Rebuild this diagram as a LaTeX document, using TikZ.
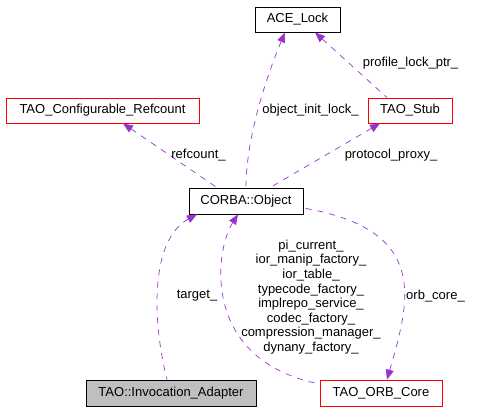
\documentclass[tikz,border=0pt]{standalone}
\usepackage{fontspec}
\setmainfont{Liberation Sans}
\usetikzlibrary{arrows.meta}
\definecolor{edgec}{HTML}{9A32CD}
\tikzset{
  cls/.style={draw=black, line width=0.8pt, rectangle, inner sep=0pt, minimum height=25pt, font=\fontsize{13}{15}\selectfont},
  redcls/.style={cls, draw=red},
  rel/.style={draw=edgec, line width=0.7pt, dash pattern=on 6pt off 6pt, {Triangle[length=10pt,width=8pt]}-},
  lbl/.style={font=\fontsize{13}{14.6}\selectfont, inner sep=0pt, align=center}
}
\begin{document}
\begin{tikzpicture}[x=1pt,y=-1pt]
\useasboundingbox (0,0) rectangle (487,411);
\node[cls, minimum width=85pt] (ace) at (297.5,19.5) {ACE\_Lock};
\node[redcls, minimum width=193pt] (refc) at (102.5,110.5) {TAO\_Configurable\_Refcount};
\node[redcls, minimum width=84pt] (stub) at (410,110.5) {TAO\_Stub};
\node[cls, minimum width=114pt, minimum height=26pt] (corba) at (246,201) {CORBA::Object};
\node[cls, minimum width=170pt, minimum height=26pt, fill={rgb,255:red,191;green,191;blue,191}] (inv) at (171,393) {TAO::Invocation\_Adapter};
\node[redcls, minimum width=122pt, minimum height=26pt] (orb) at (381,393) {TAO\_ORB\_Core};

% refcount_
\draw[rel] ([xshift=20.5pt]refc.south) -- ([xshift=-29pt]corba.north);
\node[lbl] (lrefc) at (198.5,155) {refcount\_};
% object_init_lock_
\draw[rel] ([xshift=-12.5pt]ace.south) .. controls (265,80) and (246,140) .. (corba.north);
\node[lbl] (lobj) at (310.5,110) {object\_init\_lock\_};
% protocol_proxy_
\draw[rel] ([xshift=-30pt]stub.south) -- ([xshift=24pt]corba.north);
\node[lbl] (lprot) at (391,155) {protocol\_proxy\_};
% profile_lock_ptr_
\draw[rel] ([xshift=17.5pt]ace.south) -- ([xshift=-23pt]stub.north);
\node[lbl] (lprof) at (410.5,63) {profile\_lock\_ptr\_};
% target_
\draw[rel] ([xshift=-49pt]corba.south) .. controls (150,240) and (152,320) .. ([xshift=-4pt]inv.north);
\node[lbl] (ltarget) at (197,296) {target\_};
% pi_current_ ...
\draw[rel] ([xshift=-8pt]corba.south) .. controls (215,250) and (200,360) .. ([yshift=9pt]orb.west);
\node[lbl] (lmulti) at (311,297) {pi\_current\_\\ior\_manip\_factory\_\\ior\_table\_\\typecode\_factory\_\\implrepo\_service\_\\codec\_factory\_\\compression\_manager\_\\dynany\_factory\_};
% orb_core_
\draw[rel] ([xshift=6pt]orb.north) .. controls (410,300) and (430,230) .. ([yshift=-7pt]corba.east);
\node[lbl] (lorb) at (435.5,296) {orb\_core\_};
\end{tikzpicture}
\end{document}
